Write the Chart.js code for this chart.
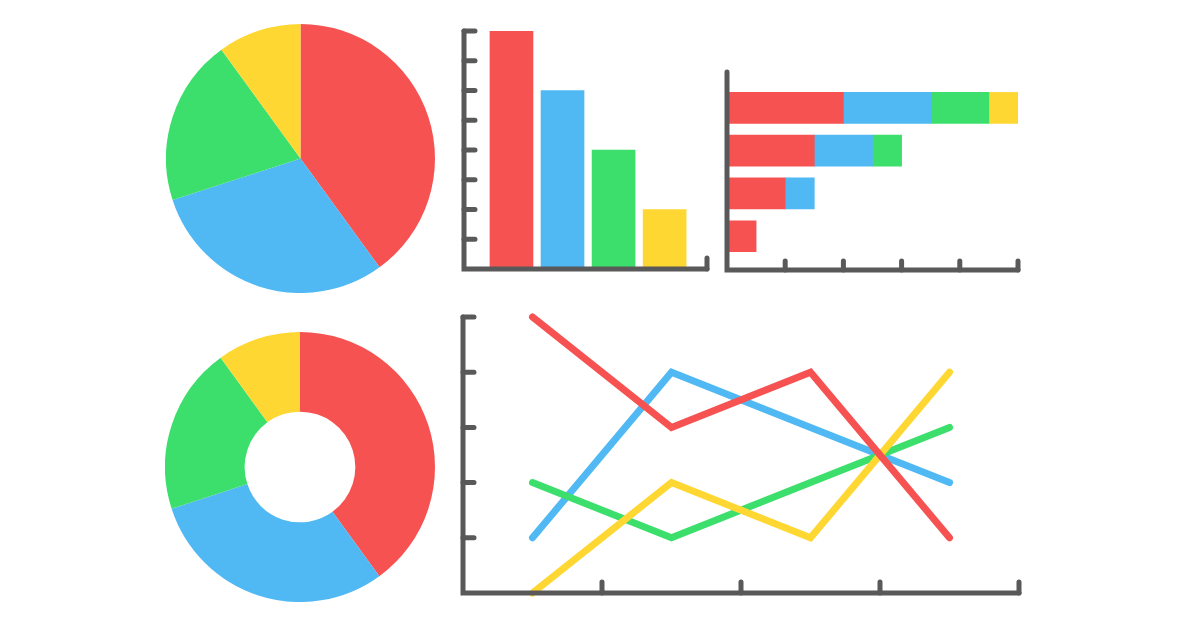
<!DOCTYPE html>
<html>
<head>
<meta charset="utf-8">
<script src="https://cdn.jsdelivr.net/npm/chart.js@4.4.1/dist/chart.umd.min.js"></script>
<style>
  html, body { margin: 0; background: #fff; }
  #stage { position: relative; width: 1200px; height: 630px; overflow: hidden; }
  canvas { position: absolute; }
</style>
</head>
<body>
<div id="stage">
  <canvas id="pie" width="269" height="269" style="left:166px;top:24px"></canvas>
  <canvas id="donut" width="270" height="270" style="left:165px;top:332px"></canvas>
  <canvas id="bars" width="267" height="262" style="left:452px;top:19px"></canvas>
  <canvas id="hbars" width="315" height="222" style="left:715px;top:60px"></canvas>
  <canvas id="lines" width="580" height="300" style="left:451px;top:305px"></canvas>
</div>
<script>
(() => {
  'use strict'

  const RED = '#f75252'
  const BLUE = '#50b8f3'
  const GREEN = '#3ddf6c'
  const YELLOW = '#ffd733'
  const AXIS = '#595959'

  // pie + doughnut
  const sliceLabels = ['A', 'B', 'C', 'D']
  const sliceValues = [40, 30, 20, 10]
  const sliceColors = [RED, BLUE, GREEN, YELLOW]

  // vertical bars
  const barCats = ['A', 'B', 'C', 'D']
  const barValues = [8, 6, 4, 2]

  // horizontal stacked bars, rows top to bottom
  const rowCats = ['1', '2', '3', '4']
  const rowRed = [2, 1.5, 1, 0.5]
  const rowBlue = [1.5, 1, 0.5, null]
  const rowGreen = [1, 0.5, null, null]
  const rowYellow = [0.5, null, null, null]

  // line chart
  const lineCats = ['1', '2', '3', '4']
  const lineRed = [5, 3, 4, 1]
  const lineBlue = [1, 4, 3, 2]
  const lineGreen = [2, 1, 2, 3]
  const lineYellow = [0, 2, 1, 4]

  Chart.defaults.animation = false
  Chart.defaults.events = []
  Chart.defaults.plugins.legend.display = false
  Chart.defaults.plugins.tooltip.enabled = false

  // axes drawn as thick rounded strokes with ticks pointing inwards
  const axisFrame = {
    id: 'axisFrame',
    afterDatasetsDraw(chart, args, opts) {
      const { ctx, chartArea: a } = chart
      const sx = chart.scales.x
      const sy = chart.scales.y
      ctx.save()
      ctx.strokeStyle = AXIS
      ctx.lineWidth = opts.width
      ctx.lineCap = 'round'
      ctx.lineJoin = 'miter'
      ctx.beginPath()
      ctx.moveTo(a.left, a.top)
      ctx.lineTo(a.left, a.bottom)
      ctx.lineTo(a.right, a.bottom)
      ctx.stroke()

      ctx.beginPath()
      if (opts.yTicks) {
        sy.ticks.filter(t => t.value > sy.min).forEach(t => {
          const p = sy.getPixelForValue(t.value)
          ctx.moveTo(a.left, p)
          ctx.lineTo(a.left + opts.len, p)
        })
      }
      let xs = []
      if (opts.xTicks === 'end') {
        xs = [a.right]
      } else if (opts.xTicks === 'all') {
        if (sx.type === 'category') {
          const n = sx.getLabels().length
          xs = sx.getLabels().map((_, i) => sx.getPixelForValue(i) + sx.width / n / 2)
        } else {
          xs = sx.ticks.filter(t => t.value > sx.min).map(t => sx.getPixelForValue(t.value))
        }
      }
      xs.forEach(p => {
        ctx.moveTo(p, a.bottom)
        ctx.lineTo(p, a.bottom - opts.len)
      })
      ctx.stroke()
      ctx.restore()
    }
  }

  const hidden = { display: false, grid: { display: false }, border: { display: false } }

  // Pie
  new Chart(document.getElementById('pie'), {
    type: 'pie',
    data: {
      labels: sliceLabels,
      datasets: [{ data: sliceValues, backgroundColor: sliceColors, borderWidth: 0, hoverOffset: 0 }]
    },
    options: { responsive: false, layout: { padding: 0 } }
  })

  // Doughnut
  new Chart(document.getElementById('donut'), {
    type: 'doughnut',
    data: {
      labels: sliceLabels,
      datasets: [{ data: sliceValues, backgroundColor: sliceColors, borderWidth: 0, hoverOffset: 0 }]
    },
    options: { responsive: false, cutout: '41%', layout: { padding: 0 } }
  })

  // Vertical bars
  new Chart(document.getElementById('bars'), {
    type: 'bar',
    data: {
      labels: barCats,
      datasets: [{
        data: barValues.map((v, i) => ({ x: i + 1, y: v })),
        backgroundColor: sliceColors,
        borderWidth: 0,
        barThickness: 43
      }]
    },
    options: {
      responsive: false,
      layout: { padding: 12 },
      scales: {
        x: { ...hidden, type: 'linear', offset: false, min: 0.07, max: 4.83 },
        y: { ...hidden, min: 0, max: 8, ticks: { stepSize: 1 } }
      },
      plugins: { axisFrame: { width: 5, len: 11, yTicks: true, xTicks: 'end' } }
    },
    plugins: [axisFrame]
  })

  // Horizontal stacked bars
  const rowSet = (vals, color) => ({
    data: vals.map((v, i) => ({ x: v, y: i })),
    backgroundColor: color,
    borderWidth: 0,
    barThickness: 31
  })
  new Chart(document.getElementById('hbars'), {
    type: 'bar',
    data: {
      labels: rowCats,
      datasets: [rowSet(rowRed, RED), rowSet(rowBlue, BLUE), rowSet(rowGreen, GREEN), rowSet(rowYellow, YELLOW)]
    },
    options: {
      indexAxis: 'y',
      responsive: false,
      layout: { padding: 12 },
      scales: {
        x: { ...hidden, stacked: true, min: 0, max: 5, ticks: { stepSize: 1 } },
        y: { ...hidden, type: 'linear', offset: false, stacked: true, reverse: true, min: -0.84, max: 3.79 }
      },
      plugins: { axisFrame: { width: 5, len: 9, yTicks: false, xTicks: 'all' } }
    },
    plugins: [axisFrame]
  })

  // Lines (first dataset is drawn on top)
  const lineSet = (vals, color) => ({
    data: vals,
    borderColor: color,
    backgroundColor: color,
    borderWidth: 7,
    borderCapStyle: 'round',
    borderJoinStyle: 'miter',
    pointRadius: 0,
    tension: 0,
    clip: false
  })
  new Chart(document.getElementById('lines'), {
    type: 'line',
    data: {
      labels: lineCats,
      datasets: [lineSet(lineRed, RED), lineSet(lineYellow, YELLOW), lineSet(lineGreen, GREEN), lineSet(lineBlue, BLUE)]
    },
    options: {
      responsive: false,
      layout: { padding: 12 },
      scales: {
        x: { ...hidden, offset: true },
        y: { ...hidden, min: 0, max: 5, ticks: { stepSize: 1 } }
      },
      plugins: { axisFrame: { width: 5, len: 11, yTicks: true, xTicks: 'all' } }
    },
    plugins: [axisFrame]
  })
})()
</script>
</body>
</html>
